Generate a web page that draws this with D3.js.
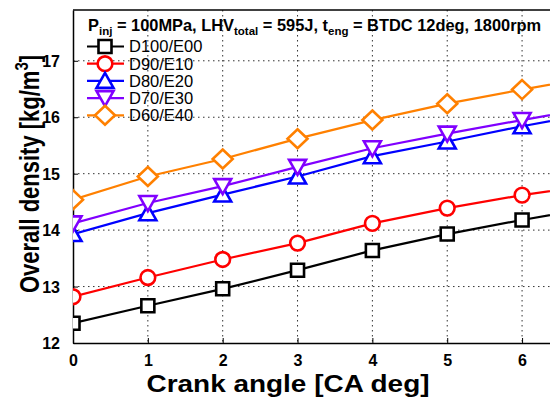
<!DOCTYPE html>
<html>
<head>
<meta charset="utf-8">
<script src="https://cdn.jsdelivr.net/npm/d3@7"></script>
<style>
body { margin: 0; background: #fff; }
svg text { font-family: "Liberation Sans", Arial, sans-serif; }
</style>
</head>
<body>
<div id="chart"></div>
<script>
// crank angle values
let crankAngle = [0, 1, 2, 3, 4, 5, 6, 7];

// overall density per fuel blend [kg/m3]
let d100e00 = [12.35, 12.66, 12.96, 13.29, 13.64, 13.93, 14.18, 14.41];
let d90e10 = [12.82, 13.16, 13.48, 13.77, 14.12, 14.39, 14.62, 14.81];
let d80e20 = [13.93, 14.30, 14.63, 14.95, 15.31, 15.57, 15.84, 16.08];
let d70e30 = [14.12, 14.48, 14.78, 15.12, 15.45, 15.71, 15.95, 16.18];
let d60e40 = [14.54, 14.95, 15.26, 15.62, 15.95, 16.24, 16.49, 16.72];

let seriesNames = ["D100/E00", "D90/E10", "D80/E20", "D70/E30", "D60/E40"];
let seriesColors = ["#000000", "#ff0000", "#0000ff", "#8000ff", "#ff8000"];
let seriesMarkers = ["square", "circle", "up", "down", "diamond"];
let seriesValues = [d100e00, d90e10, d80e20, d70e30, d60e40];

let xTicks = [0, 1, 2, 3, 4, 5, 6];
let yTicks = [12, 13, 14, 15, 16, 17];

let panel = { width: 550, height: 405 };
let margin = { left: 73, top: 10, bottom: 343, right: 552 };

let svg = d3.select("#chart").append("svg")
	.attr("width", panel.width)
	.attr("height", panel.height);

let x = d3.scaleLinear().domain([0, 6.4]).range([margin.left, margin.right]);
let y = d3.scaleLinear().domain([12, 17.9]).range([margin.bottom, margin.top]);

// grid, dotted
let grid = svg.append("g");
grid.selectAll(".vgrid")
	.data(xTicks.filter(d => d > 0))
	.enter().append("line")
	.attr("x1", d => x(d)).attr("x2", d => x(d))
	.attr("y1", margin.top).attr("y2", margin.bottom)
	.attr("stroke", "#333").attr("stroke-width", 1)
	.attr("stroke-dasharray", "1.5,3.5");
grid.selectAll(".hgrid")
	.data(yTicks.filter(d => d > 12))
	.enter().append("line")
	.attr("x1", margin.left).attr("x2", margin.right)
	.attr("y1", d => y(d)).attr("y2", d => y(d))
	.attr("stroke", "#333").attr("stroke-width", 1)
	.attr("stroke-dasharray", "1.5,3.5");

// axes with inward ticks
let xAxis = svg.append("g")
	.attr("transform", "translate(0," + margin.bottom + ")")
	.call(d3.axisBottom(x).tickValues(xTicks).tickFormat(d3.format("d"))
		.tickSize(-5).tickPadding(9).tickSizeOuter(0));
let yAxis = svg.append("g")
	.attr("transform", "translate(" + margin.left + ",0)")
	.call(d3.axisLeft(y).tickValues(yTicks).tickFormat(d3.format("d"))
		.tickSize(-5).tickPadding(13).tickSizeOuter(0));
[xAxis, yAxis].forEach(a => {
	a.select(".domain").attr("stroke", "#000").attr("stroke-width", 1.5);
	a.selectAll(".tick line").attr("stroke", "#000").attr("stroke-width", 1);
	a.selectAll(".tick text")
		.attr("font-size", 16).attr("font-weight", "bold").attr("fill", "#000")
		.style("font-family", "'Liberation Sans', Arial, sans-serif");
});
xAxis.selectAll(".tick text").attr("dy", "0.9em");
yAxis.selectAll(".tick text").attr("dy", "0.35em");

// top border
svg.append("line")
	.attr("x1", margin.left).attr("x2", margin.right)
	.attr("y1", margin.top).attr("y2", margin.top)
	.attr("stroke", "#000").attr("stroke-width", 1.5);

svg.append("clipPath").attr("id", "clip")
	.append("rect")
	.attr("x", margin.left).attr("y", margin.top)
	.attr("width", margin.right - margin.left).attr("height", margin.bottom - margin.top);

function markerPath(type) {
	if (type === "square") return "M-6.5,-6.5H6.5V6.5H-6.5Z";
	if (type === "circle") return d3.symbol().type(d3.symbolCircle).size(170)();
	if (type === "up") return "M0,-8L8.5,7H-8.5Z";
	if (type === "down") return "M0,8L8.5,-7H-8.5Z";
	if (type === "diamond") return "M0,-9.5L10,0L0,9.5L-10,0Z";
}

let line = d3.line().x(d => x(d[0])).y(d => y(d[1]));
let plot = svg.append("g").attr("clip-path", "url(#clip)");

seriesValues.forEach((vals, i) => {
	let pts = crankAngle.map((c, j) => [c, vals[j]]);
	let g = plot.append("g");
	g.append("path")
		.datum(pts)
		.attr("d", line)
		.attr("fill", "none")
		.attr("stroke", seriesColors[i])
		.attr("stroke-width", 2.2);
	g.selectAll(".mk")
		.data(pts)
		.enter().append("path")
		.attr("transform", d => "translate(" + x(d[0]) + "," + y(d[1]) + ")")
		.attr("d", markerPath(seriesMarkers[i]))
		.attr("fill", "#fff")
		.attr("stroke", seriesColors[i])
		.attr("stroke-width", 2.6);
});

// legend
let legend = svg.append("g");
let title = legend.append("text")
	.attr("x", 88).attr("y", 31)
	.attr("font-size", 16.4).attr("font-weight", "bold").attr("fill", "#000");
title.append("tspan").text("P");
title.append("tspan").attr("font-size", 11.5).attr("dy", 4).text("inj");
title.append("tspan").attr("dy", -4).text(" = 100MPa, LHV");
title.append("tspan").attr("font-size", 11.5).attr("dy", 4).text("total");
title.append("tspan").attr("dy", -4).text(" = 595J, t");
title.append("tspan").attr("font-size", 11.5).attr("dy", 4).text("eng");
title.append("tspan").attr("dy", -4).text(" = BTDC 12deg, 1800rpm");

let rows = legend.selectAll(".row")
	.data(seriesNames)
	.enter().append("g")
	.attr("transform", (d, i) => "translate(0," + (46.5 + i * 17.2) + ")");
rows.append("line")
	.attr("x1", 87).attr("x2", 124)
	.attr("stroke", (d, i) => seriesColors[i])
	.attr("stroke-width", 2.2);
rows.append("path")
	.attr("transform", "translate(105,0)")
	.attr("d", (d, i) => markerPath(seriesMarkers[i]))
	.attr("fill", "#fff")
	.attr("stroke", (d, i) => seriesColors[i])
	.attr("stroke-width", 2.6);
rows.append("text")
	.attr("x", 129).attr("y", 5.8)
	.attr("font-size", 16.5).attr("fill", "#000")
	.text(d => d);

// axis titles
svg.append("text")
	.attr("x", 288).attr("y", 392)
	.attr("text-anchor", "middle")
	.attr("font-size", 23).attr("font-weight", "bold")
	.attr("textLength", 283).attr("lengthAdjust", "spacingAndGlyphs")
	.text("Crank angle [CA deg]");
// the picture is stretched sideways, so the rotated label is thicker
let yl = svg.append("text")
	.attr("transform", "translate(39,174) rotate(-90) scale(1,1.25)")
	.attr("text-anchor", "middle")
	.attr("font-size", 22).attr("font-weight", "bold");
yl.append("tspan").text("Overall density [kg/m");
yl.append("tspan").attr("font-size", 15).attr("dy", -9).text("3");
yl.append("tspan").attr("dy", 9).text("]");
</script>
</body>
</html>
